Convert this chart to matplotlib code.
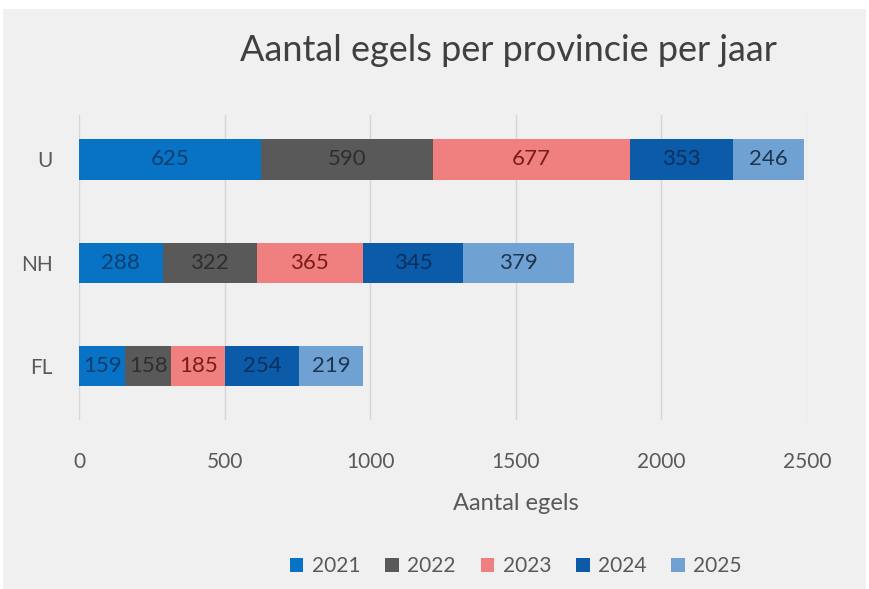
import matplotlib
matplotlib.use("Agg")
import matplotlib.pyplot as plt
import numpy as np

plt.rcParams['font.family'] = ['Lato', 'DejaVu Sans']

# data
provinces = ['FL', 'NH', 'U']
years = ['2021', '2022', '2023', '2024', '2025']
v2021 = [159, 288, 625]
v2022 = [158, 322, 590]
v2023 = [185, 365, 677]
v2024 = [254, 345, 353]
v2025 = [219, 379, 246]
series = [v2021, v2022, v2023, v2024, v2025]

colors = ['#0872C4', '#595959', '#F07F7F', '#0B5BA9', '#6FA1D2']
text_colors = ['#0B3E6E', '#2E2E2E', '#7A1C1C', '#0A2F5C', '#1E3550']

bg = '#F0F0F0'
fig = plt.figure(figsize=(8.69, 5.89), dpi=100, facecolor='white')
fig.patches.append(plt.Rectangle((0.004, 0.0), 0.992, 0.985, transform=fig.transFigure,
                                 facecolor=bg, edgecolor='none', zorder=-10))
ax = fig.add_axes([0.0909, 0.2869, 0.8378, 0.5178])
ax.set_facecolor(bg)

y = np.arange(len(provinces))
left = np.zeros(len(provinces))
for i, vals in enumerate(series):
    ax.barh(y, vals, left=left, height=0.39, color=colors[i], label=years[i], zorder=3)
    for j, v in enumerate(vals):
        ax.text(left[j] + v / 2, y[j], str(v), ha='center', va='center',
                fontsize=16, color=text_colors[i], zorder=4)
    left += np.array(vals)

ax.set_xlim(0, 2500)
ax.set_ylim(-0.52, 2.43)
ax.set_xticks(np.arange(0, 2501, 500))
ax.set_yticks(y)
ax.set_yticklabels(provinces)
ax.grid(axis='x', color='#D6D6D6', linewidth=1, zorder=0)
for s in ax.spines.values():
    s.set_visible(False)
ax.tick_params(length=0, labelsize=15, labelcolor='#595959')
ax.tick_params(axis='x', pad=23)
ax.tick_params(axis='y', pad=19)
ax.set_xlabel('Aantal egels', fontsize=17, color='#595959')
ax.xaxis.set_label_coords(0.6, -0.24)

fig.text(0.585, 0.915, 'Aantal egels per provincie per jaar', ha='center', va='center',
         fontsize=26, color='#404040')

ax.legend(loc='center', bbox_to_anchor=(0.6, -0.479), ncol=5, frameon=False,
          fontsize=15, labelcolor='#595959', handlelength=0.65, handleheight=0.65,
          handletextpad=0.4, columnspacing=1.2)

fig.savefig('out.png', dpi=100, facecolor='white')
